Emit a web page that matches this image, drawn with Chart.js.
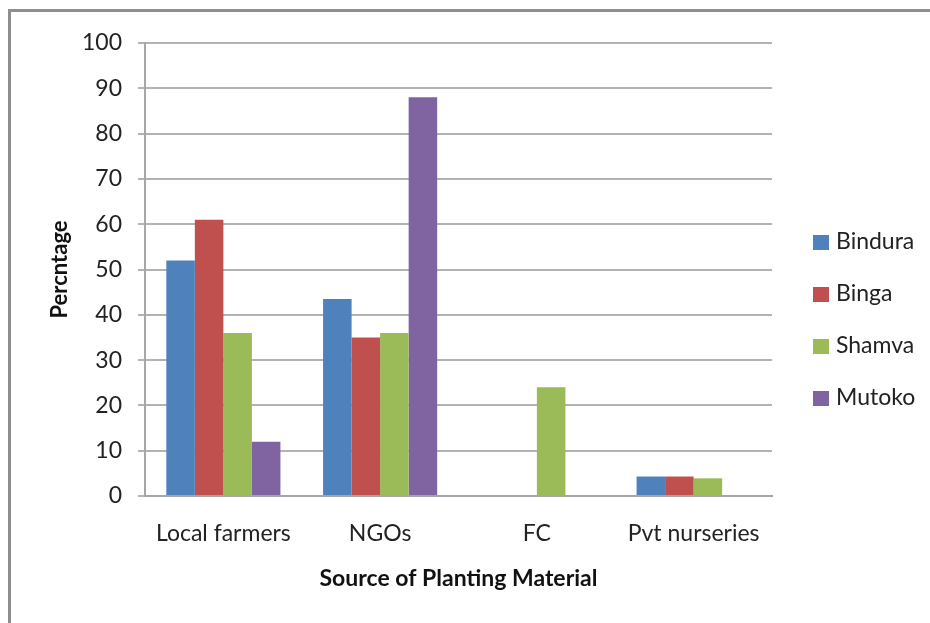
<!DOCTYPE html>
<html>
<head>
<meta charset="utf-8">
<script src="https://cdn.jsdelivr.net/npm/chart.js@4/dist/chart.umd.min.js"></script>
<style>
  html, body { margin: 0; padding: 0; background: #fff; }
  #wrap { position: relative; width: 930px; height: 623px; overflow: hidden; background: #fff; }
  #frame { position: absolute; left: 8px; top: 9px; width: 1000px; height: 700px;
           border-left: 3px solid #8e8e8e; border-top: 3px solid #8e8e8e; box-sizing: border-box; }
  canvas { position: absolute; left: 0; top: 0; }
</style>
</head>
<body>
<div id="wrap">
  <div id="frame"></div>
  <canvas id="c" width="930" height="623"></canvas>
</div>
<script>
const categories = ["Local farmers", "NGOs", "FC", "Pvt nurseries"];
const seriesNames = ["Bindura", "Binga", "Shamva", "Mutoko"];
const bindura = [52, 43.5, 0, 4.3];
const binga = [61, 35, 0, 4.3];
const shamva = [36, 36, 24, 3.9];
const mutoko = [12, 88, 0, 0];
const yTicks = [0, 10, 20, 30, 40, 50, 60, 70, 80, 90, 100];
const colors = ["#4f81bd", "#c0504d", "#9bbb59", "#8064a2"];

const FONT = "Lato, 'Open Sans', sans-serif";
const values = [bindura, binga, shamva, mutoko];

const legendPlugin = {
  id: 'sideLegend',
  afterDraw(chart) {
    const ctx = chart.ctx;
    ctx.save();
    ctx.font = "23px " + FONT;
    ctx.textBaseline = 'middle';
    ctx.textAlign = 'left';
    const ys = [242, 294, 346, 398];
    chart.data.datasets.forEach((ds, i) => {
      const y = ys[i];
      ctx.fillStyle = ds.backgroundColor;
      ctx.fillRect(813, y - 7, 16, 15);
      ctx.fillStyle = '#222';
      ctx.fillText(ds.label, 836, y);
    });
    ctx.restore();
  }
};

new Chart(document.getElementById('c'), {
  type: 'bar',
  data: {
    labels: categories,
    datasets: seriesNames.map((n, i) => ({
      label: n,
      data: values[i],
      backgroundColor: colors[i],
      borderWidth: 0,
      barPercentage: 1.0,
      categoryPercentage: 0.728
    }))
  },
  options: {
    responsive: false,
    animation: false,
    devicePixelRatio: 1,
    layout: { padding: { left: 0, right: 158, top: 43, bottom: 0 } },
    plugins: { legend: { display: false }, tooltip: { enabled: false } },
    scales: {
      x: {
        grid: { display: false, drawTicks: false },
        border: { display: true, color: '#a6a6a6', width: 2 },
        ticks: { color: '#222', font: { family: FONT, size: 23 }, padding: 24, maxRotation: 0 },
        title: { display: true, text: 'Source of Planting Material', color: '#111',
                 font: { family: FONT, size: 23, weight: 'bold' }, padding: { top: 0, bottom: 31 } },
        afterFit(scale) { scale.height = 127; }
      },
      y: {
        min: 0, max: 100,
        afterBuildTicks(scale) { scale.ticks = yTicks.map(v => ({ value: v })); },
        grid: { color: '#b3b3b3', lineWidth: 2, tickLength: 7, drawTicks: true },
        border: { display: true, color: '#a6a6a6', width: 2 },
        ticks: { color: '#222', font: { family: FONT, size: 23 }, padding: 16 },
        title: { display: true, text: 'Percntage', color: '#111',
                 font: { family: FONT, size: 22, weight: 'bold' }, padding: { top: 47, bottom: 0 } },
        afterFit(scale) { scale.width = 145; }
      }
    }
  },
  plugins: [legendPlugin]
});
</script>
</body>
</html>
